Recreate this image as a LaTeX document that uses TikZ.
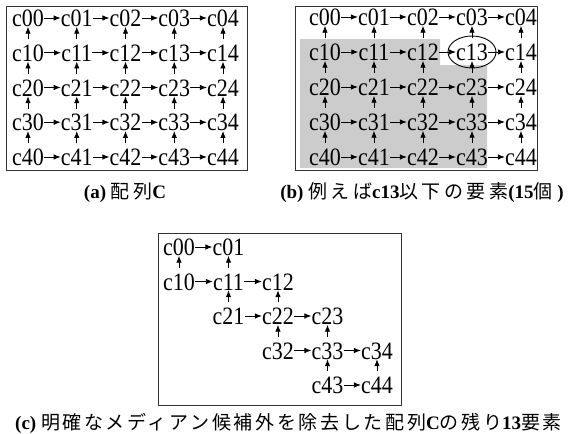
\documentclass[tikz,border=0pt]{standalone}
\usepackage{fontspec}
\setmainfont{Liberation Serif}
\newfontfamily\cf[FakeStretch=0.88]{Liberation Serif}
\newfontfamily\jp[LetterSpace=18]{Noto Sans CJK JP}
\newfontfamily\jpc[LetterSpace=14]{Noto Sans CJK JP}
\usetikzlibrary{arrows.meta}
\begin{document}
\begin{tikzpicture}[x=1pt,y=-1pt,
  lbl/.style={inner sep=0pt,text height=17pt,text depth=0pt,font=\cf\fontsize{25}{30}\selectfont},
  harr/.style={-{Latex[length=7pt,width=5.5pt]},line width=0.9pt},
  varr/.style={-{Latex[length=7pt,width=5.5pt]},line width=0.9pt,shorten <=5pt},
  frame/.style={draw=black!80,line width=0.8pt},
  captxt/.style={font=\fontsize{19}{22}\selectfont,inner sep=0pt}]
\useasboundingbox (0,0) rectangle (568,434);
% frames
\draw[frame] (6,6) rectangle (247,170);
\draw[frame] (295,6) rectangle (537,170);
\draw[frame] (158,233) rectangle (401,405);
% shading in (b)
\fill[black!20] (300,39) -- (440,39) -- (440,65) -- (487,65) -- (487,168) -- (300,168) -- cycle;
% (a) and (b) grids
\foreach \r in {0,...,4}{
  \foreach \c in {0,...,4}{
    \node[lbl] (a\r\c) at ({28+48.75*\c},{18+34.75*\r}) {c\r\c};
    \node[lbl] (b\r\c) at ({325+49*\c},{17+35*\r}) {c\r\c};
  }
}
\foreach \r in {0,...,4}{
  \foreach \c/\n in {0/1,1/2,2/3,3/4}{
    \draw[harr] (a\r\c) -- (a\r\n);
    \draw[harr] (b\r\c) -- (b\r\n);
  }
}
\foreach \r/\p in {1/0,2/1,3/2,4/3}{
  \foreach \c in {0,...,4}{
    \draw[varr] (a\r\c) -- (a\p\c);
    \draw[varr] (b\r\c) -- (b\p\c);
  }
}
\draw[line width=0.9pt] (b13) ellipse [x radius=24, y radius=16];
% (c)
\foreach \n/\r/\c in {00/0/0,01/0/1,10/1/0,11/1/1,12/1/2,21/2/1,22/2/2,23/2/3,32/3/2,33/3/3,34/3/4,43/4/3,44/4/4}{
  \node[lbl] (c\n) at ({179+49.5*\c},{247+34.5*\r}) {c\n};
}
\foreach \s/\t in {00/01,10/11,11/12,21/22,22/23,32/33,33/34,43/44}{
  \draw[harr] (c\s) -- (c\t);
}
\foreach \s/\t in {10/00,11/01,21/11,22/12,32/22,33/23,43/33,44/34}{
  \draw[varr] (c\s) -- (c\t);
}
% captions
\node[captxt] (capa) at (125,193) {{\bfseries (a)} {\jp 配列}{\bfseries C}};
\node[captxt] (capb) at (422,193) {{\bfseries (b)} {\jp 例えば}{\bfseries c13}{\jp 以下の要素}{\bfseries (15}{\jp 個}{\bfseries\ )}};
\node[captxt,anchor=west] (capc) at (15,423) {{\bfseries (c)} {\jpc 明確なメディアン候補外を除去した配列}{\bfseries C}{\jpc の残り}{\bfseries 13}{\jpc 要素}};
\end{tikzpicture}
\end{document}
